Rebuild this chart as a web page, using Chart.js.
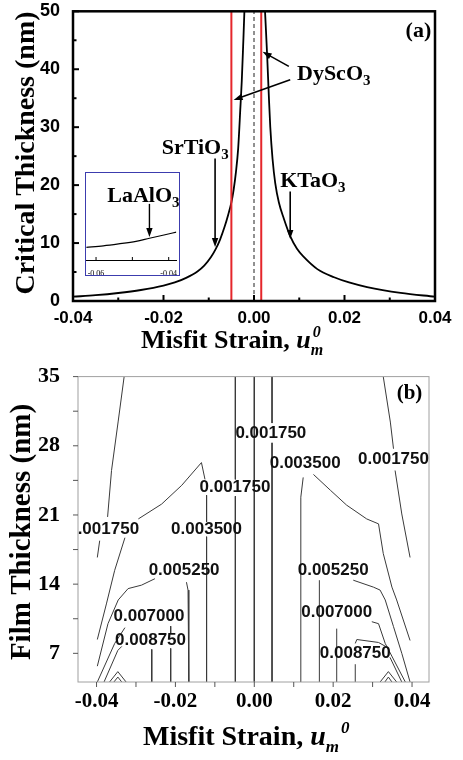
<!DOCTYPE html>
<html>
<head>
<meta charset="utf-8">
<script src="https://cdn.jsdelivr.net/npm/chart.js@4.4.0/dist/chart.umd.min.js"></script>
<style>
html, body { margin: 0; padding: 0; background: #fff; }
#wrap { position: relative; width: 463px; height: 760px; overflow: hidden; }
#chartA { position: absolute; left: 0; top: 0; }
#chartB { position: absolute; left: 0; top: 360px; }
#inset { position: absolute; left: 85px; top: 172px; width: 93px; height: 102px; border: 1.5px solid #3c3cae; background: #fff; }
</style>
</head>
<body>
<div id="wrap">
  <canvas id="chartA" width="463" height="360"></canvas>
  <canvas id="chartB" width="463" height="400"></canvas>
  <div id="inset"><canvas id="chartInset" width="93" height="102"></canvas></div>
</div>
<script>
// ---- panel (a) : critical thickness vs misfit strain ----
const leftStrain  = [-0.04, -0.035, -0.03, -0.025, -0.02, -0.0175, -0.015, -0.0125, -0.011, -0.0095, -0.0085, -0.0075, -0.0065, -0.0057, -0.005, -0.0045, -0.004, -0.0035, -0.003, -0.0027, -0.0024, -0.0021, -0.0018];
const leftThick   = [0.74, 1.0, 1.38, 1.9, 2.65, 3.2, 4.0, 5.1, 6.1, 7.6, 8.9, 10.6, 12.8, 14.9, 17.0, 19.2, 22.2, 26.3, 33.5, 38, 44, 50.5, 59];
const rightStrain = [0.0019, 0.0022, 0.0025, 0.0029, 0.0033, 0.0036, 0.0041, 0.0047, 0.0055, 0.0066, 0.008, 0.0095, 0.011, 0.014, 0.0177, 0.021, 0.025, 0.0324, 0.04];
const rightThick  = [60, 54, 49, 42.5, 35, 30, 24.5, 20.3, 17, 14.2, 11.2, 9.0, 7.6, 5.5, 4.1, 3.2, 2.4, 1.4, 0.74];
const substrateStrain = [-0.005, 0.0016];   // red lines (DyScO3)
const aStrainTicks = [-0.04, -0.03, -0.02, -0.01, 0, 0.01, 0.02, 0.03, 0.04];
const aThickTicks  = [0, 5, 10, 15, 20, 25, 30, 35, 40, 45, 50];

// labels and arrows of panel (a)
const annBase   = ['DyScO', 'SrTiO', 'KTaO'];
const annStrain = [0.0095, -0.0204, 0.0058];
const annThick  = [38.1, 25.4, 19.6];
const arrowTailStrain = [0.0077, 0.008, -0.0086, 0.008];
const arrowTailThick  = [40.5, 38.2, 24.6, 18.9];
const arrowTipStrain  = [0.0019, -0.0045, -0.0086, 0.008];
const arrowTipThick   = [43.0, 34.7, 9.3, 10.7];

// inset (LaAlO3)
const insetStrain = [-0.0627, -0.058, -0.0538, -0.049, -0.0453, -0.041, -0.0379];
const insetThick  = [0.49, 0.525, 0.57, 0.63, 0.70, 0.78, 0.84];
const insetTicks  = [-0.06, -0.05, -0.04];

// ---- panel (b) : contour lines, every line split where the picture breaks it ----
const c1750OuterLeftS  = [[-0.0330, -0.0345, -0.0362, -0.0372], [-0.0392, -0.0398]];
const c1750OuterLeftT  = [[35, 30.5, 25.5, 20.8], [18.4, 16.7]];
const c1750InnerLeftS  = [[-0.0048, -0.0048], [-0.0048, -0.0048]];
const c1750InnerLeftT  = [[35, 24.6], [22.9, 4.1]];
const zeroLineS        = [[0, 0]];
const zeroLineT        = [[35, 4.1]];
const c1750InnerRightS = [[0.0045, 0.0045], [0.0045, 0.0045]];
const c1750InnerRightT = [[35, 30.3], [28.3, 4.1]];
const c1750OuterRightS = [[0.0327, 0.0345, 0.0353], [0.0357, 0.0374, 0.0395]];
const c1750OuterRightT = [[35, 30.4, 27.7], [25.5, 21.1, 16.7]];

const c3500LeftS  = [[-0.0398, -0.0375, -0.0354, -0.0328], [-0.0294, -0.0235, -0.0184, -0.0134, -0.0125], [-0.0121, -0.0121], [-0.0121, -0.0121]];
const c3500LeftT  = [[8.4, 12.0, 15.4, 18.7], [20.6, 22.1, 24.0, 26.3, 24.6], [23.0, 20.3], [18.8, 4.1]];
const c3500RightS = [[0.0116, 0.0118, 0.0124], [0.015, 0.0193, 0.0234, 0.0285, 0.0315, 0.0327, 0.0349, 0.0361, 0.0395]];
const c3500RightT = [[4.1, 22.8, 24.8], [25.1, 23.5, 22.0, 20.6, 20.1, 17.1, 13.7, 12.4, 8.3]];

const c5250LeftS  = [[-0.0398, -0.0371, -0.0345, -0.032, -0.0286, -0.0252], [-0.0172, -0.0168, -0.0166]];
const c5250LeftT  = [[5.7, 10.0, 12.4, 13.55, 13.9, 14.55], [14.2, 13.4, 4.1]];
const c5250RightS = [[0.0165, 0.0165], [0.0251, 0.0302, 0.0319, 0.0332, 0.0353, 0.0374, 0.0395]];
const c5250RightT = [[4.1, 14.4], [14.4, 13.7, 13.4, 12.4, 9.7, 7.0, 4.1]];

const c7000LeftS  = [[-0.0398, -0.0354, -0.0328], [-0.0212, -0.0212], [-0.0212, -0.0212]];
const c7000LeftT  = [[4.1, 8.0, 9.6], [9.75, 9.0], [7.5, 4.1]];
const c7000RightS = [[0.0209, 0.0209], [0.0298, 0.0315, 0.0332, 0.0383]];
const c7000RightT = [[4.1, 9.5], [10.2, 10.0, 8.0, 4.1]];

const c8750LeftS  = [[-0.0381, -0.0346, -0.0336], [-0.026, -0.026]];
const c8750LeftT  = [[4.1, 7.3, 7.7], [7.4, 4.1]];
const c8750RightS = [[0.0256, 0.0256], [0.0256, 0.026, 0.0315, 0.0333], [0.0344, 0.0374]];
const c8750RightT = [[4.1, 5.9], [8.0, 8.4, 8.1, 7.7], [6.6, 4.1]];

const peakLeftS  = [[-0.0367, -0.0346, -0.0325], [-0.0356, -0.0346, -0.0336]];
const peakLeftT  = [[4.1, 5.15, 4.1], [4.1, 4.6, 4.1]];
const peakRightS = [[0.0319, 0.034, 0.0361], [0.0331, 0.034, 0.0349]];
const peakRightT = [[4.1, 5.15, 4.1], [4.1, 4.6, 4.1]];

const contourLabel  = ['0.001750', '0.003500', '0.001750', '0.001750', '0.001750', '0.003500', '0.005250', '0.005250', '0.007000', '0.007000', '0.008750', '0.008750'];
const contourLabelS = [0.0042, 0.0129, 0.0353, -0.0049, -0.0382, -0.0121, -0.0178, 0.0200, -0.0267, 0.0209, -0.0263, 0.0256];
const contourLabelT = [29.3, 26.2, 26.6, 23.8, 19.5, 19.5, 15.4, 15.4, 10.7, 11.2, 8.3, 7.0];
const bStrainTicks = [-0.04, -0.03, -0.02, -0.01, 0, 0.01, 0.02, 0.03, 0.04];
const bThickTicks  = [7, 10.5, 14, 17.5, 21, 24.5, 28, 31.5, 35];

const serif = '"Liberation Serif", "Times New Roman", serif';
const sans = '"Liberation Sans", Arial, sans-serif';

function zip(us, hs) {
    return us.map((u, i) => ({x: u, y: hs[i]}));
}

function contourSets(segS, segT) {
    return segS.map((s, i) => ({
        data: zip(s, segT[i]),
        showLine: true,
        borderColor: '#3a3a3a',
        borderWidth: 1,
        pointRadius: 0,
        tension: 0
    }));
}

function strainLabel(v) {
    return Math.round(v * 100) % 2 === 0 ? v.toFixed(2) : '';
}

function drawTicks(chart, dir, major, minor, color, width) {
    const {ctx, chartArea: a, scales} = chart;
    ctx.save();
    ctx.strokeStyle = color;
    ctx.lineWidth = width;
    scales.x.ticks.forEach(t => {
        const px = scales.x.getPixelForValue(t.value);
        const len = t.label !== '' ? major : minor;
        ctx.beginPath();
        ctx.moveTo(px, a.bottom);
        ctx.lineTo(px, a.bottom + dir * len);
        ctx.stroke();
    });
    if (scales.y.options.display) {
        scales.y.ticks.forEach(t => {
            const py = scales.y.getPixelForValue(t.value);
            const len = t.label !== '' ? major : minor;
            ctx.beginPath();
            ctx.moveTo(a.left, py);
            ctx.lineTo(a.left - dir * len, py);
            ctx.stroke();
        });
    }
    ctx.restore();
}

function drawChem(ctx, x, y, base, sub, size) {
    ctx.textAlign = 'left';
    ctx.textBaseline = 'alphabetic';
    ctx.font = 'bold ' + size + 'px ' + serif;
    ctx.fillText(base, x, y);
    const w = ctx.measureText(base).width;
    ctx.font = 'bold ' + Math.round(size * 0.68) + 'px ' + serif;
    ctx.fillText(sub, x + w, y + size * 0.22);
}

function drawArrow(ctx, x1, y1, x2, y2) {
    const ang = Math.atan2(y2 - y1, x2 - x1);
    const head = 9, half = 3.2;
    const c = Math.cos(ang), s = Math.sin(ang);
    ctx.beginPath();
    ctx.moveTo(x1, y1);
    ctx.lineTo(x2 - c * head * 0.7, y2 - s * head * 0.7);
    ctx.stroke();
    ctx.beginPath();
    ctx.moveTo(x2, y2);
    ctx.lineTo(x2 - head * c + half * s, y2 - head * s - half * c);
    ctx.lineTo(x2 - head * c - half * s, y2 - head * s + half * c);
    ctx.closePath();
    ctx.fill();
}

function drawStrainTitle(ctx, x, y, size, stacked) {
    ctx.textAlign = 'left';
    ctx.textBaseline = 'alphabetic';
    ctx.fillStyle = '#000';
    ctx.font = 'bold ' + size + 'px ' + serif;
    ctx.fillText('Misfit Strain, ', x, y);
    let cx = x + ctx.measureText('Misfit Strain, ').width;
    ctx.font = 'italic bold ' + size + 'px ' + serif;
    ctx.fillText('u', cx, y);
    cx += ctx.measureText('u').width;
    const small = Math.round(size * 0.62);
    ctx.font = 'italic bold ' + small + 'px ' + serif;
    ctx.fillText('m', cx, y + size * 0.25);
    const mw = ctx.measureText('m').width;
    ctx.fillText('0', stacked ? cx + 2 : cx + mw + 2, y - size * 0.42);
}

function drawVerticalTitle(ctx, text, cx, cy, size) {
    ctx.save();
    ctx.translate(cx, cy);
    ctx.rotate(-Math.PI / 2);
    ctx.textAlign = 'center';
    ctx.textBaseline = 'middle';
    ctx.fillStyle = '#000';
    ctx.font = 'bold ' + size + 'px ' + serif;
    ctx.fillText(text, 0, 0);
    ctx.restore();
}

// ---------- chart (a) ----------
const decorA = {
    id: 'decorA',
    afterDatasetsDraw(chart) {
        const {ctx, chartArea: a, scales: {x, y}} = chart;
        ctx.save();
        ctx.strokeStyle = '#000';
        ctx.lineWidth = 2.5;
        ctx.strokeRect(a.left, a.top, a.right - a.left, a.bottom - a.top);
        ctx.restore();
        drawTicks(chart, -1, 6, 3.5, '#000', 2);

        ctx.save();
        ctx.fillStyle = '#000';
        ctx.strokeStyle = '#000';
        ctx.lineWidth = 1.6;
        annBase.forEach((b, i) => {
            drawChem(ctx, x.getPixelForValue(annStrain[i]), y.getPixelForValue(annThick[i]), b, '3', 22);
        });
        arrowTailStrain.forEach((s, i) => {
            drawArrow(ctx, x.getPixelForValue(s), y.getPixelForValue(arrowTailThick[i]),
                x.getPixelForValue(arrowTipStrain[i]), y.getPixelForValue(arrowTipThick[i]));
        });
        ctx.font = 'bold 22px ' + serif;
        ctx.textAlign = 'left';
        ctx.fillText('(a)', x.getPixelForValue(0.0335), y.getPixelForValue(45.6));

        drawStrainTitle(ctx, 141, 348, 26, true);
        drawVerticalTitle(ctx, 'Critical Thickness (nm)', 27, 153, 28);
        ctx.restore();
    }
};

new Chart(document.getElementById('chartA'), {
    type: 'scatter',
    data: {
        datasets: [
            {data: zip(leftStrain, leftThick), showLine: true, borderColor: '#000', borderWidth: 1.8, pointRadius: 0, cubicInterpolationMode: 'monotone', order: 2},
            {data: zip(rightStrain, rightThick), showLine: true, borderColor: '#000', borderWidth: 1.8, pointRadius: 0, cubicInterpolationMode: 'monotone', order: 2},
            ...substrateStrain.map(s => ({
                data: [{x: s, y: aThickTicks[0]}, {x: s, y: aThickTicks[aThickTicks.length - 1]}],
                showLine: true, borderColor: '#e5262b', borderWidth: 2, pointRadius: 0, order: 0
            })),
            {data: [{x: 0, y: aThickTicks[0]}, {x: 0, y: aThickTicks[aThickTicks.length - 1]}],
                showLine: true, borderColor: '#222', borderWidth: 1, borderDash: [4, 3], pointRadius: 0, order: 1}
        ]
    },
    options: {
        responsive: false,
        animation: false,
        events: [],
        layout: {padding: {left: 0, right: 28, top: 7, bottom: 0}},
        plugins: {legend: {display: false}, tooltip: {enabled: false}},
        scales: {
            x: {
                type: 'linear', min: -0.04, max: 0.04,
                afterBuildTicks: s => { s.ticks = aStrainTicks.map(v => ({value: v})); },
                afterFit: s => { s.height = 59; },
                grid: {display: false},
                border: {display: false},
                ticks: {callback: strainLabel, color: '#000', padding: 1, maxRotation: 0, autoSkip: false,
                    font: {family: sans, size: 17, weight: 'bold', lineHeight: 1}}
            },
            y: {
                type: 'linear', min: 0, max: 50,
                afterBuildTicks: s => { s.ticks = aThickTicks.map(v => ({value: v})); },
                afterFit: s => { s.width = 73; },
                grid: {display: false},
                border: {display: false},
                ticks: {callback: v => (v % 10 === 0 ? String(v) : ''), color: '#000', padding: 5, autoSkip: false,
                    font: {family: sans, size: 18, weight: 'bold', lineHeight: 0.7}}
            }
        }
    },
    plugins: [decorA]
});

// ---------- inset ----------
const decorInset = {
    id: 'decorInset',
    afterDatasetsDraw(chart) {
        const {ctx, scales: {x, y}} = chart;
        drawTicks(chart, -1, 3, 3, '#000', 1);
        ctx.save();
        ctx.fillStyle = '#000';
        ctx.strokeStyle = '#000';
        ctx.lineWidth = 1.4;
        drawChem(ctx, x.getPixelForValue(-0.0569), y.getPixelForValue(1.54), 'LaAlO', '3', 22);
        drawArrow(ctx, x.getPixelForValue(-0.0453), y.getPixelForValue(1.49), x.getPixelForValue(-0.0453), y.getPixelForValue(0.73));
        ctx.restore();
    }
};

new Chart(document.getElementById('chartInset'), {
    type: 'scatter',
    data: {
        datasets: [{data: zip(insetStrain, insetThick), showLine: true, borderColor: '#000', borderWidth: 1.2, pointRadius: 0, cubicInterpolationMode: 'monotone'}]
    },
    options: {
        responsive: false,
        animation: false,
        events: [],
        layout: {padding: 0},
        plugins: {legend: {display: false}, tooltip: {enabled: false}},
        scales: {
            x: {
                type: 'linear', min: -0.0627, max: -0.0379,
                afterBuildTicks: s => { s.ticks = insetTicks.map(v => ({value: v})); },
                afterFit: s => { s.height = 15; },
                grid: {display: false},
                border: {display: true, color: '#000', width: 1},
                ticks: {callback: v => (Math.abs(v + 0.05) < 1e-9 ? '' : v.toFixed(2)), color: '#000', padding: 2, maxRotation: 0, autoSkip: false,
                    font: {family: serif, size: 8, lineHeight: 1}}
            },
            y: {type: 'linear', min: 0.2, max: 2.2, display: false}
        }
    },
    plugins: [decorInset]
});

// ---------- chart (b) ----------
const contourS = [c1750OuterLeftS, c1750InnerLeftS, zeroLineS, c1750InnerRightS, c1750OuterRightS, c3500LeftS, c3500RightS,
    c5250LeftS, c5250RightS, c7000LeftS, c7000RightS, c8750LeftS, c8750RightS, peakLeftS, peakRightS];
const contourT = [c1750OuterLeftT, c1750InnerLeftT, zeroLineT, c1750InnerRightT, c1750OuterRightT, c3500LeftT, c3500RightT,
    c5250LeftT, c5250RightT, c7000LeftT, c7000RightT, c8750LeftT, c8750RightT, peakLeftT, peakRightT];

const decorB = {
    id: 'decorB',
    afterDatasetsDraw(chart) {
        const {ctx, chartArea: a, scales: {x, y}} = chart;
        ctx.save();
        ctx.strokeStyle = '#a0a0a0';
        ctx.lineWidth = 1;
        ctx.strokeRect(a.left, a.top, a.right - a.left, a.bottom - a.top);
        ctx.restore();
        drawTicks(chart, 1, 5, 5, '#555', 1);

        ctx.save();
        ctx.beginPath();
        ctx.rect(a.left, a.top, a.right - a.left, a.bottom - a.top);
        ctx.clip();
        ctx.fillStyle = '#111';
        ctx.font = 'bold 17px ' + sans;
        ctx.textAlign = 'center';
        ctx.textBaseline = 'middle';
        contourLabel.forEach((t, i) => {
            ctx.fillText(t, x.getPixelForValue(contourLabelS[i]), y.getPixelForValue(contourLabelT[i]));
        });
        ctx.restore();

        ctx.save();
        ctx.fillStyle = '#000';
        ctx.font = 'bold 21px ' + serif;
        ctx.textAlign = 'left';
        ctx.fillText('(b)', x.getPixelForValue(0.0361), y.getPixelForValue(32.7));
        drawStrainTitle(ctx, 143, 385, 28, false);
        drawVerticalTitle(ctx, 'Film Thickness (nm)', 23, 172, 29);
        ctx.restore();
    }
};

new Chart(document.getElementById('chartB'), {
    type: 'scatter',
    data: {
        datasets: contourS.flatMap((s, i) => contourSets(s, contourT[i]))
    },
    options: {
        responsive: false,
        animation: false,
        events: [],
        layout: {padding: {left: 0, right: 34, top: 14, bottom: 0}},
        plugins: {legend: {display: false}, tooltip: {enabled: false}},
        scales: {
            x: {
                type: 'linear', min: -0.0447, max: 0.0443,
                afterBuildTicks: s => { s.ticks = bStrainTicks.map(v => ({value: v})); },
                afterFit: s => { s.height = 78; },
                grid: {display: false},
                border: {display: false},
                ticks: {callback: strainLabel, color: '#000', padding: 1, maxRotation: 0, autoSkip: false,
                    font: {family: serif, size: 21, weight: 'bold', lineHeight: 1}}
            },
            y: {
                type: 'linear', min: 4.1, max: 35,
                afterBuildTicks: s => { s.ticks = bThickTicks.map(v => ({value: v})); },
                afterFit: s => { s.width = 78; },
                grid: {display: false},
                border: {display: false},
                ticks: {callback: v => (v % 7 === 0 ? String(v) : ''), color: '#000', padding: 10, autoSkip: false,
                    font: {family: serif, size: 22, weight: 'bold', lineHeight: 0.6}}
            }
        }
    },
    plugins: [decorB]
});
</script>
</body>
</html>
